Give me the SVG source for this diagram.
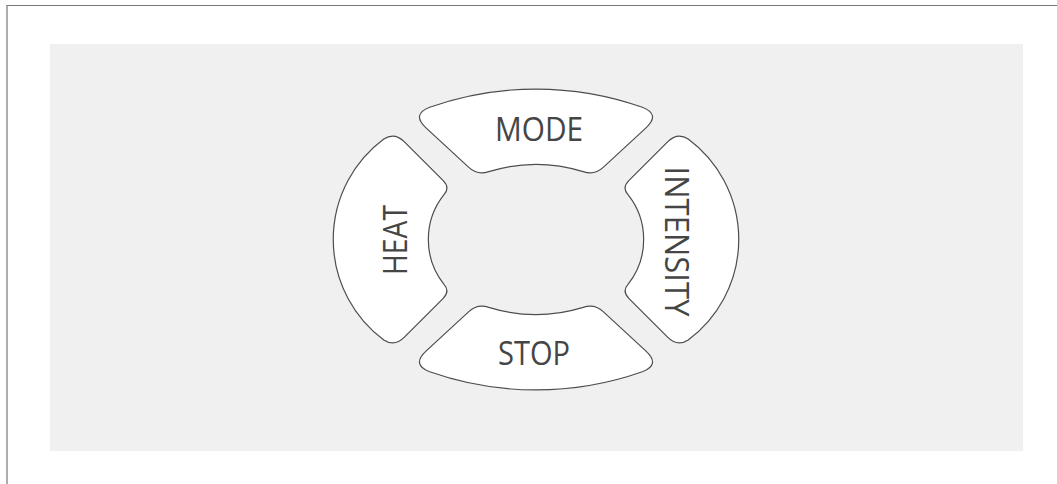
<svg xmlns="http://www.w3.org/2000/svg" width="1057" height="484" viewBox="0 0 1057 484">
<style>
.btn{fill:#ffffff;stroke:#4d4d4d;stroke-width:1.2;stroke-linejoin:round}
.lbl{font-family:"Open Sans","Noto Sans","Liberation Sans",sans-serif;font-size:32px;fill:#454545;text-anchor:middle}
.frame{stroke:#777777;stroke-width:1.2;fill:none}
</style>
<rect x="0" y="0" width="1057" height="484" fill="#ffffff"/>
<path class="frame" d="M7,484 L7,5.5 L1057,5.5"/>
<rect x="50" y="44" width="973" height="407" fill="#eff0ef"/>
<g id="node-mode">
<path class="btn" d="M429.7,107.2 A320,320 0 0 1 642.3,107.2 Q660.7,114.3 646,127.9 L603.2,167.4 Q594.4,175.5 583.2,171.6 A160,160 0 0 0 488.8,171.6 Q477.6,175.5 468.8,167.4 L426,127.9 Q411.3,114.3 429.7,107.2 Z"/>
<text class="lbl" x="539" y="140.5" textLength="88" lengthAdjust="spacingAndGlyphs">MODE</text>
</g>
<g id="node-stop">
<path class="btn" d="M429.7,371.8 A320,320 0 0 0 642.3,371.8 Q660.7,364.7 646,351.1 L603.2,311.6 Q594.4,303.5 583.2,307.4 A160,160 0 0 1 488.8,307.4 Q477.6,303.5 468.8,311.6 L426,351.1 Q411.3,364.7 429.7,371.8 Z"/>
<text class="lbl" x="534" y="364.5" textLength="72" lengthAdjust="spacingAndGlyphs">STOP</text>
</g>
<g id="node-heat">
<path class="btn" d="M404.4,141.9 L443.2,180.7 Q450.25,187.75 444,194.65 A72,72 0 0 0 444,284.35 Q450.25,291.25 443.2,298.3 L404.4,337.1 Q394.5,347 383.8,339.9 A125,125 0 0 1 383.8,139.1 Q394.5,132 404.4,141.9 Z"/>
<text class="lbl" transform="translate(407,240) rotate(-90)" x="0" y="0" textLength="70" lengthAdjust="spacingAndGlyphs">HEAT</text>
</g>
<g id="node-intensity">
<path class="btn" d="M667.6,141.9 L628.8,180.7 Q621.75,187.75 628,194.65 A72,72 0 0 1 628,284.35 Q621.75,291.25 628.8,298.3 L667.6,337.1 Q677.5,347 688.2,339.9 A125,125 0 0 0 688.2,139.1 Q677.5,132 667.6,141.9 Z"/>
<text class="lbl" transform="translate(665,241.5) rotate(90)" x="0" y="0" textLength="150" lengthAdjust="spacingAndGlyphs">INTENSITY</text>
</g>
<g id="connectors"/>
</svg>
